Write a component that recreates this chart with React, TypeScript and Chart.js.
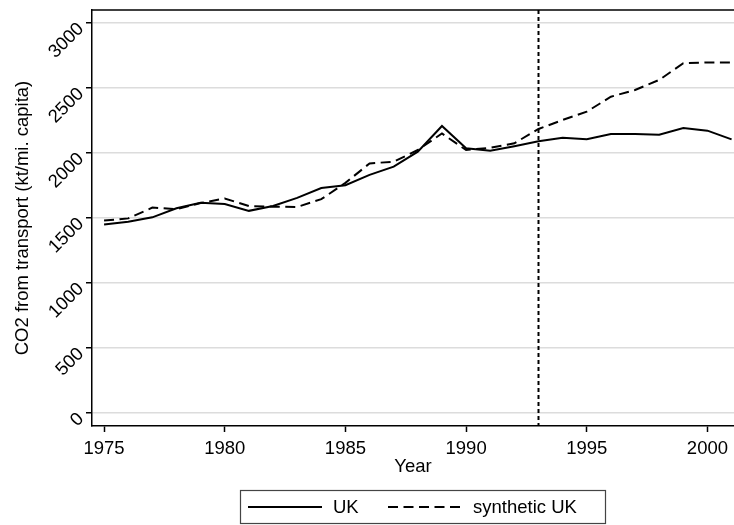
import React, { useEffect, useRef } from "react";
import { Chart, registerables } from "chart.js";

Chart.register(...registerables);

const years = [1975, 1976, 1977, 1978, 1979, 1980, 1981, 1982, 1983, 1984, 1985, 1986, 1987, 1988, 1989, 1990, 1991, 1992, 1993, 1994, 1995, 1996, 1997, 1998, 1999, 2000, 2001];
const ukValues = [1450, 1472, 1505, 1575, 1618, 1608, 1555, 1592, 1655, 1730, 1752, 1832, 1895, 2010, 2208, 2036, 2018, 2052, 2090, 2118, 2105, 2146, 2146, 2140, 2192, 2172, 2105];
const syntheticValues = [1480, 1497, 1580, 1568, 1615, 1650, 1592, 1587, 1585, 1645, 1770, 1920, 1933, 2023, 2150, 2023, 2040, 2075, 2185, 2254, 2318, 2433, 2485, 2562, 2690, 2697, 2697];
const seriesLabels = ["UK", "synthetic UK"];
const xTickValues = [1975, 1980, 1985, 1990, 1995, 2000];
const yTickValues = [0, 500, 1000, 1500, 2000, 2500, 3000];
const treatmentYear = 1993;
const xAxisTitle = "Year";
const yAxisTitle = "CO2 from transport (kt/mi. capita)";

const FONT = 'Arial, "Liberation Sans", sans-serif';
const solidDash: number[] = [];
const synthDash = [10, 5.5];

const overlayPlugin = {
  id: "overlay",
  beforeDatasetsDraw(chart: any) {
    const { ctx, chartArea: a, scales } = chart;
    const x = scales.x.getPixelForValue(treatmentYear);
    ctx.save();
    ctx.strokeStyle = "#000";
    ctx.lineWidth = 2;
    ctx.setLineDash([4, 3]);
    ctx.beginPath();
    ctx.moveTo(x, a.top);
    ctx.lineTo(x, a.bottom);
    ctx.stroke();
    ctx.restore();
  },
  afterDraw(chart: any) {
    const { ctx, chartArea: a } = chart;
    ctx.save();
    // top frame line
    ctx.strokeStyle = "#000";
    ctx.lineWidth = 1.5;
    ctx.beginPath();
    ctx.moveTo(a.left, a.top);
    ctx.lineTo(a.right, a.top);
    ctx.stroke();
    // legend
    const bx = 240, by = 490, bw = 365, bh = 33;
    ctx.strokeStyle = "#444";
    ctx.lineWidth = 1.2;
    ctx.strokeRect(bx + 0.5, by + 0.5, bw, bh);
    const cy = by + bh / 2 + 0.5;
    const items = [
      { x0: 248, x1: 322, tx: 333, dash: solidDash, label: seriesLabels[0] },
      { x0: 388, x1: 461, tx: 473, dash: synthDash, label: seriesLabels[1] },
    ];
    ctx.font = `18.5px ${FONT}`;
    ctx.textBaseline = "middle";
    ctx.textAlign = "left";
    ctx.fillStyle = "#000";
    for (const it of items) {
      ctx.strokeStyle = "#000";
      ctx.lineWidth = 2;
      ctx.setLineDash(it.dash);
      ctx.beginPath();
      ctx.moveTo(it.x0, cy);
      ctx.lineTo(it.x1, cy);
      ctx.stroke();
      ctx.setLineDash([]);
      ctx.fillText(it.label, it.tx, cy + 1);
    }
    ctx.restore();
  },
};

export default function App() {
  const ref = useRef<HTMLCanvasElement>(null);
  useEffect(() => {
    const canvas = ref.current;
    if (!canvas) return;
    const chart = new Chart(canvas, {
      type: "line",
      data: {
        datasets: [
          {
            label: seriesLabels[0],
            data: years.map((y, i) => ({ x: y, y: ukValues[i] })),
            borderColor: "#000",
            borderWidth: 2,
            pointRadius: 0,
            tension: 0,
            fill: false,
          },
          {
            label: seriesLabels[1],
            data: years.map((y, i) => ({ x: y, y: syntheticValues[i] })),
            borderColor: "#000",
            borderWidth: 2,
            borderDash: synthDash,
            pointRadius: 0,
            tension: 0,
            fill: false,
          },
        ],
      },
      options: {
        responsive: false,
        animation: false,
        layout: { padding: { left: 0, right: 0, top: 10, bottom: 47 } },
        plugins: {
          legend: { display: false },
          tooltip: { enabled: false },
        },
        scales: {
          x: {
            type: "linear",
            min: 1974.5,
            max: 2001.1,
            afterBuildTicks: (axis: any) => {
              axis.ticks = xTickValues.map((v) => ({ value: v }));
            },
            afterFit: (axis: any) => {
              axis.height = 52;
              axis.paddingLeft = 0;
              axis.paddingRight = 0;
            },
            grid: { display: true, drawOnChartArea: false, tickLength: 6, tickColor: "#000", tickWidth: 1.5 },
            border: { display: true, color: "#000", width: 1.5 },
            ticks: {
              color: "#000",
              font: { family: FONT, size: 18.5 },
              padding: 6,
              maxRotation: 0,
              minRotation: 0,
              autoSkip: false,
              callback: (v: any) => String(v),
            },
            title: {
              display: true,
              text: xAxisTitle,
              color: "#000",
              font: { family: FONT, size: 18.5 },
              padding: { top: 0, bottom: 0 },
            },
          },
          y: {
            type: "linear",
            min: -100,
            max: 3100,
            afterBuildTicks: (axis: any) => {
              axis.ticks = yTickValues.map((v) => ({ value: v }));
            },
            afterFit: (axis: any) => {
              axis.width = 92;
              axis.paddingTop = 0;
              axis.paddingBottom = 0;
            },
            grid: { display: true, color: "#dcdcdc", lineWidth: 1.5, tickLength: 6, tickColor: "#000", tickWidth: 1.5 },
            border: { display: true, color: "#000", width: 1.5 },
            ticks: {
              color: "#000",
              font: { family: FONT, size: 18.5 },
              padding: 5,
              labelOffset: 3,
              minRotation: 45,
              maxRotation: 45,
              autoSkip: false,
              callback: (v: any) => String(v),
            },
            title: {
              display: true,
              text: yAxisTitle,
              color: "#000",
              font: { family: FONT, size: 18.5 },
              padding: { top: 12, bottom: 0 },
            },
          },
        },
      },
      plugins: [overlayPlugin],
    } as any);
    return () => chart.destroy();
  }, []);
  return (
    <div style={{ position: "absolute", left: 0, top: 0, width: 734, height: 525, background: "#fff" }}>
      <canvas ref={ref} width={734} height={525} style={{ display: "block" }} />
    </div>
  );
}
